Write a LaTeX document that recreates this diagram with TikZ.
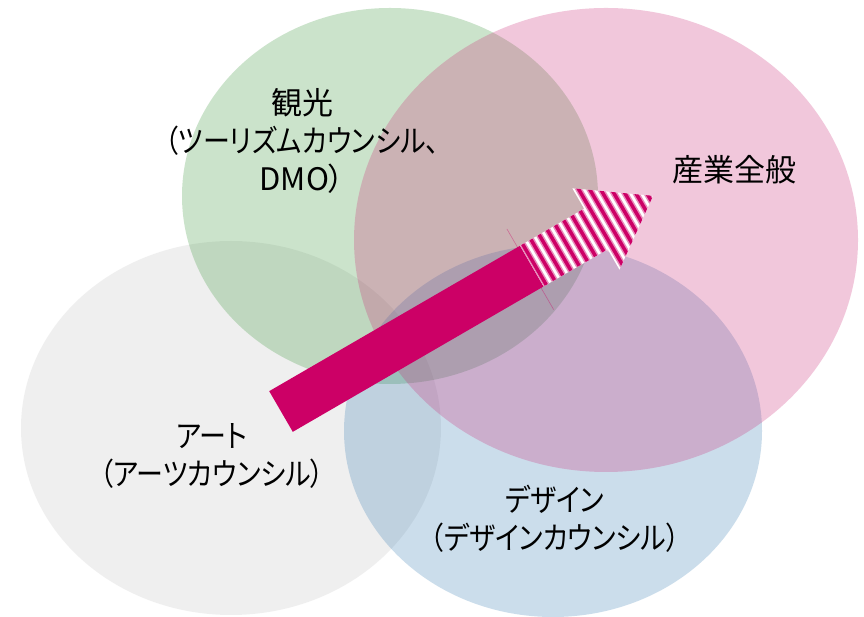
\documentclass[tikz,border=0pt]{standalone}
\usepackage{fontspec}
\usetikzlibrary{shapes.geometric}
\newfontfamily\jpfont[CharacterWidth=AlternateProportional]{Noto Sans CJK JP}
\newfontfamily\jpkana[CharacterWidth=AlternateProportional,FakeStretch=0.87]{Noto Sans CJK JP}
\definecolor{cgray}{RGB}{195,195,195}
\definecolor{cgreen}{RGB}{51,147,51}
\definecolor{cblue}{RGB}{51,123,179}
\definecolor{cpink}{RGB}{203,35,115}
\definecolor{arrowmag}{RGB}{204,0,102}
\begin{document}
\begin{tikzpicture}[x=1pt,y=1pt,
  circ/.style={ellipse, inner sep=0pt, fill opacity=0.25, draw=none},
  lbl/.style={align=center, font=\jpfont\fontsize{31}{38}\selectfont, text=black, inner sep=0pt}]
\fill[white] (0,0) rectangle (864,617);
\useasboundingbox (0,0) rectangle (864,617);
\node[circ, fill=cgray, minimum width=420pt, minimum height=374pt] (art) at (231,189) {};
\node[circ, fill=cgreen, minimum width=416pt, minimum height=376pt] (tour) at (390,421) {};
\node[circ, fill=cblue, minimum width=418pt, minimum height=372pt] (design) at (553,186) {};
\node[circ, fill=cpink, minimum width=504pt, minimum height=464pt] (industry) at (606,377) {};
\begin{scope}[shift={(281,205.5)}, rotate=30.1]
  \fill[arrowmag] (0,-23.5) -- (290,-23.5) -- (290,23.5) -- (0,23.5) -- cycle;
  \begin{scope}
    \clip (290,-23.5) -- (364,-23.5) -- (364,-47) -- (430,0) -- (364,47) -- (364,23.5) -- (290,23.5) -- cycle;
    \fill[white] (288,-50) rectangle (432,50);
    \foreach \s in {0,...,15} {
      \draw[line width=6.5pt, arrowmag!45] (293+\s*9.5,-50) -- ++(0,100);
      \draw[line width=3.5pt, arrowmag] (293+\s*9.5,-50) -- ++(0,100);
    }
  \end{scope}
  \draw[arrowmag, opacity=0.4, line width=0.6pt] (287,-48.6) -- (287,44.6);
\end{scope}
\node[lbl] (tourlbl) at (302,476) {観光\\{\jpkana （ツーリズムカウンシル、}\\DMO）};
\node[lbl] (indlbl) at (734,447) {産業全般};
\node[lbl] (artlbl) at (212,161) {{\jpkana アート}\\{\jpkana （アーツカウンシル）}};
\node[lbl] (deslbl) at (555,98) {{\jpkana デザイン}\\{\jpkana （デザインカウンシル）}};
\end{tikzpicture}
\end{document}
